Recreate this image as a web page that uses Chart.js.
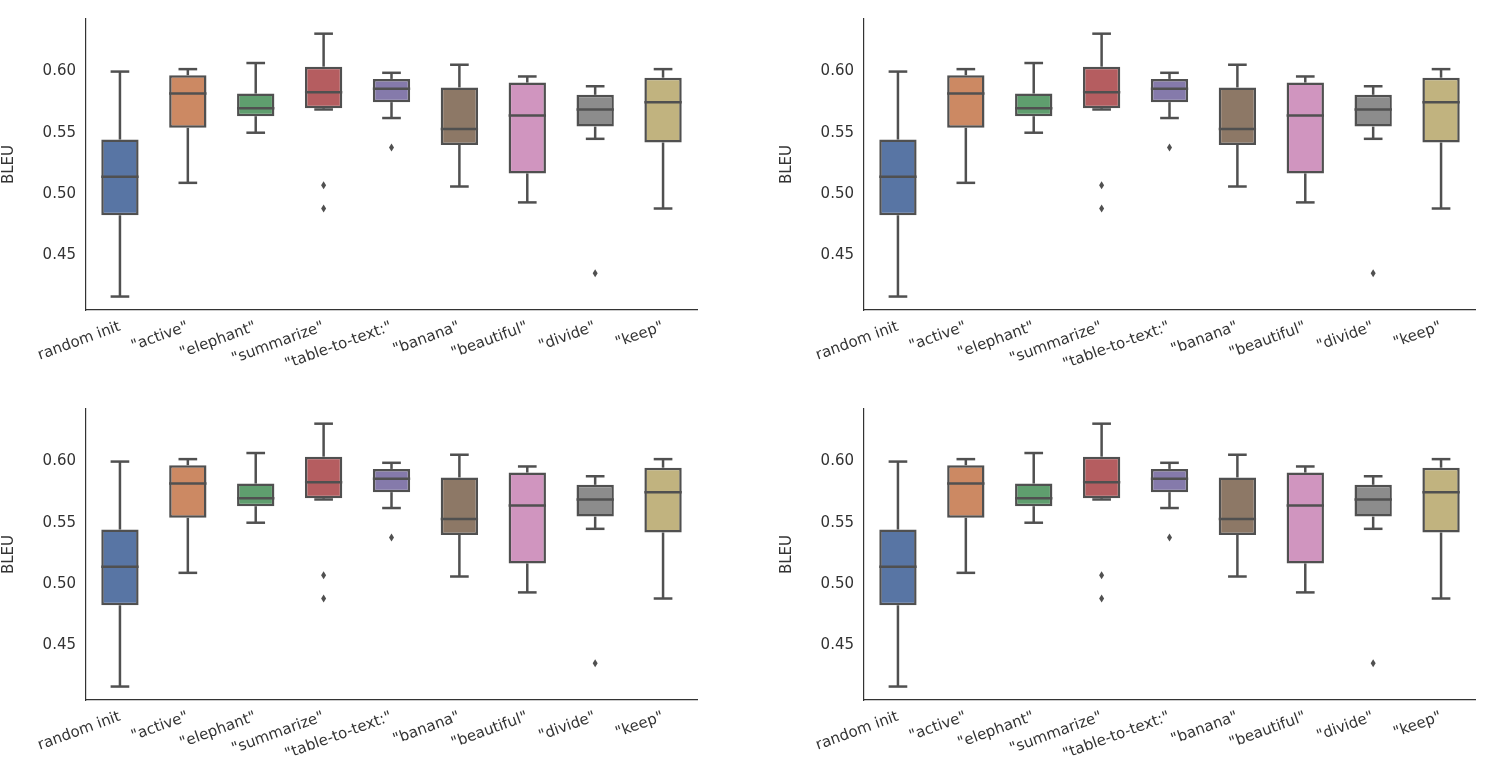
<!DOCTYPE html>
<html><head><meta charset="utf-8">
<script src="https://cdn.jsdelivr.net/npm/chart.js@4"></script>
<style>
body{margin:0;background:#fff;width:1488px;height:779px;position:relative;overflow:hidden}
.c{position:absolute;width:744px;height:389px}
canvas{display:block}
</style></head><body>
<div class="c" style="left:0;top:0"><canvas id="c0" width="744" height="389"></canvas></div>
<div class="c" style="left:778px;top:0"><canvas id="c1" width="744" height="389"></canvas></div>
<div class="c" style="left:0;top:390px"><canvas id="c2" width="744" height="389"></canvas></div>
<div class="c" style="left:778px;top:390px"><canvas id="c3" width="744" height="389"></canvas></div>
<script>
const categories = ['random init','"active"','"elephant"','"summarize"','"table-to-text:"','"banana"','"beautiful"','"divide"','"keep"'];
const whiskerLow = [0.416,0.509,0.550,0.569,0.562,0.506,0.493,0.545,0.488];
const q1 = [0.4825,0.554,0.5635,0.570,0.575,0.540,0.5167,0.555,0.542];
const median = [0.514,0.582,0.570,0.583,0.586,0.553,0.564,0.569,0.575];
const q3 = [0.5444,0.597,0.582,0.604,0.594,0.587,0.591,0.581,0.595];
const whiskerHigh = [0.600,0.602,0.607,0.631,0.599,0.6056,0.596,0.588,0.602];
const outliers = [[],[],[],[0.507,0.488],[0.538],[],[],[0.435],[]];
const yTicks = [0.45,0.50,0.55,0.60];
const colors = ['#5875a4','#cc8963','#5f9e6e','#b55d60','#857aab','#8d7866','#d095bf','#8c8c8c','#c1b37f'];
const lineColor = '#505050';

const boxPlugin = {
  id:'boxextras',
  afterDatasetsDraw(chart){
    const ctx = chart.ctx, x = chart.scales.x, y = chart.scales.y;
    const meta = chart.getDatasetMeta(0);
    ctx.save();
    ctx.strokeStyle = lineColor; ctx.fillStyle = lineColor; ctx.lineWidth = 2.5; ctx.lineCap='butt';
    categories.forEach((c,i)=>{
      const cx = x.getPixelForValue(i);
      const bw = meta.data[i].width;
      const hw = bw/4;
      const line=(x1,y1,x2,y2)=>{ctx.beginPath();ctx.moveTo(x1,y1);ctx.lineTo(x2,y2);ctx.stroke();};
      line(cx,y.getPixelForValue(q3[i]),cx,y.getPixelForValue(whiskerHigh[i]));
      line(cx,y.getPixelForValue(q1[i]),cx,y.getPixelForValue(whiskerLow[i]));
      line(cx-hw,y.getPixelForValue(whiskerHigh[i]),cx+hw,y.getPixelForValue(whiskerHigh[i]));
      line(cx-hw,y.getPixelForValue(whiskerLow[i]),cx+hw,y.getPixelForValue(whiskerLow[i]));
      line(cx-bw/2,y.getPixelForValue(median[i]),cx+bw/2,y.getPixelForValue(median[i]));
      outliers[i].forEach(v=>{
        const py = y.getPixelForValue(v);
        ctx.beginPath();ctx.moveTo(cx,py-4);ctx.lineTo(cx+2.5,py);ctx.lineTo(cx,py+4);ctx.lineTo(cx-2.5,py);ctx.closePath();ctx.fill();
      });
    });
    ctx.restore();
  }
};

for(let k=0;k<4;k++){
  new Chart(document.getElementById('c'+k),{
    type:'bar',
    data:{labels:categories,datasets:[{
      data:categories.map((c,i)=>[q1[i],q3[i]]),
      backgroundColor:colors,borderColor:lineColor,borderWidth:2.5,borderSkipped:false,
      barPercentage:0.55,categoryPercentage:1
    }]},
    options:{
      responsive:false,animation:false,devicePixelRatio:1,
      layout:{padding:{left:0,right:47,top:12,bottom:0}},
      plugins:{legend:{display:false},tooltip:{enabled:false}},
      scales:{
        x:{grid:{display:false,drawTicks:false},border:{color:'#333',width:1.2},
           afterFit(s){s.height=79;},
           ticks:{color:'#333',font:{family:'DejaVu Sans',size:15},minRotation:20,maxRotation:20,autoSkip:false,padding:8}},
        y:{min:0.405,max:0.643,grid:{display:false,drawTicks:false},border:{color:'#333',width:1.2},
           afterFit(s){s.width=86;},
           afterBuildTicks(s){s.ticks=yTicks.map(v=>({value:v}));},
           ticks:{color:'#333',font:{family:'DejaVu Sans',size:15},padding:10,callback:v=>v.toFixed(2)},
           title:{display:true,text:'BLEU',color:'#333',font:{family:'DejaVu Sans',size:15},padding:{top:0,bottom:4}}}
      }
    },
    plugins:[boxPlugin]
  });
}
</script>
</body></html>
